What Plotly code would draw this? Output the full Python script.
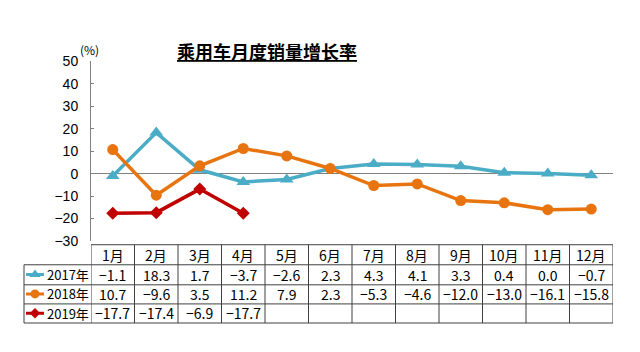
import plotly.graph_objects as go

months = ["1月", "2月", "3月", "4月", "5月", "6月", "7月", "8月", "9月", "10月", "11月", "12月"]
series_names = ["2017年", "2018年", "2019年"]
v2017 = [-1.1, 18.3, 1.7, -3.7, -2.6, 2.3, 4.3, 4.1, 3.3, 0.4, 0.0, -0.7]
v2018 = [10.7, -9.6, 3.5, 11.2, 7.9, 2.3, -5.3, -4.6, -12.0, -13.0, -16.1, -15.8]
v2019 = [-17.7, -17.4, -6.9, -17.7]
y_ticks = [-30, -20, -10, 0, 10, 20, 30, 40, 50]

W, H = 640, 352
def px(x):
    return x / W
def py(y):
    return (H - y) / H

colors = ["#4BACC6", "#E8740F", "#C00000"]
symbols = ["triangle-up", "circle", "diamond"]
msizes = [12, 11, 10]
values = [v2017, v2018, v2019]

fig = go.Figure()
for name, vals, c, s, ms in zip(series_names, values, colors, symbols, msizes):
    fig.add_trace(go.Scatter(
        x=months[:len(vals)], y=vals, mode="lines+markers", name=name,
        line=dict(color=c, width=3.5), marker=dict(symbol=s, size=ms, color=c),
        showlegend=False, xaxis="x", yaxis="y", cliponaxis=False))

# legend icons inside the table (second axes, pixel-like x range)
for i, (name, c, s, ms) in enumerate(zip(series_names, colors, symbols, msizes)):
    yc = 2.5 - i
    fig.add_trace(go.Scatter(x=[26, 44], y=[yc, yc], mode="lines",
                             line=dict(color=c, width=3), showlegend=False,
                             xaxis="x2", yaxis="y2", hoverinfo="skip"))
    fig.add_trace(go.Scatter(x=[35], y=[yc], mode="markers",
                             marker=dict(symbol=s, size=ms - 2, color=c), showlegend=False,
                             xaxis="x2", yaxis="y2", hoverinfo="skip"))

shapes = []
annotations = []
border = dict(color="#404040", width=1)
row_y = [248, 269, 290, 310, 330]
for k, yy in enumerate(row_y):
    x0 = px(91) if k == 0 else px(24)
    shapes.append(dict(type="line", xref="paper", yref="paper", x0=x0, x1=px(613),
                       y0=py(yy), y1=py(yy), line=border))
for j in range(13):
    shapes.append(dict(type="line", xref="x", yref="paper", x0=j - 0.5, x1=j - 0.5,
                       y0=py(248), y1=py(330), line=border))
shapes.append(dict(type="line", xref="paper", yref="paper", x0=px(24), x1=px(24),
                   y0=py(269), y1=py(330), line=border))

tfont = dict(family="Noto Sans CJK SC", size=14, color="#000000")
lfont = dict(family="Noto Sans CJK SC", size=13, color="#000000")

def fmt(v):
    return f"{v:.1f}".replace("-", "−")

for j, m in enumerate(months):
    annotations.append(dict(x=m, xref="x", y=py((row_y[0] + row_y[1]) / 2), yref="paper",
                            text=m, showarrow=False, font=tfont, yanchor="middle"))
for r, vals in enumerate(values):
    yc = py((row_y[r + 1] + row_y[r + 2]) / 2)
    for j, v in enumerate(vals):
        annotations.append(dict(x=months[j], xref="x", y=yc, yref="paper", text=fmt(v),
                                showarrow=False, font=tfont, yanchor="middle"))
    annotations.append(dict(x=45, xref="x2", y=2.5 - r, yref="y2", text=series_names[r],
                            showarrow=False, font=lfont, xanchor="left", yanchor="middle"))

annotations.append(dict(x=px(267), y=py(45), xref="paper", yref="paper",
                        text="<u><b>乘用车月度销量增长率</b></u>", showarrow=False,
                        font=dict(family="Noto Sans CJK SC", size=18, color="#000000"),
                        xanchor="center", yanchor="middle"))
annotations.append(dict(x=px(89.5), y=py(43), xref="paper", yref="paper",
                        text="(%)", showarrow=False,
                        font=dict(family="Noto Sans CJK SC", size=12, color="#000000"),
                        xanchor="center", yanchor="middle"))

fig.update_layout(
    width=W, height=H, margin=dict(l=0, r=0, t=0, b=0),
    paper_bgcolor="white", plot_bgcolor="white",
    xaxis=dict(domain=[px(91), px(613)], type="category", categoryorder="array",
               categoryarray=months, range=[-0.5, 11.5], showticklabels=False,
               showgrid=False, zeroline=False, showline=False, ticks=""),
    yaxis=dict(domain=[py(244), py(56)], range=[-30, 50], tickvals=y_ticks,
               showgrid=False, zeroline=True, zerolinecolor="#808080", zerolinewidth=1,
               showline=True, linecolor="#808080", linewidth=1, ticks="inside",
               ticklen=3, tickcolor="#808080", ticklabelstandoff=9,
               tickfont=dict(family="Liberation Sans, Arial", size=14, color="#000000")),
    xaxis2=dict(domain=[px(24), px(91)], range=[24, 91], visible=False, anchor="y2"),
    yaxis2=dict(domain=[py(330), py(269)], range=[0, 3], visible=False, anchor="x2"),
    shapes=shapes, annotations=annotations,
)

fig.write_html("out.html")
